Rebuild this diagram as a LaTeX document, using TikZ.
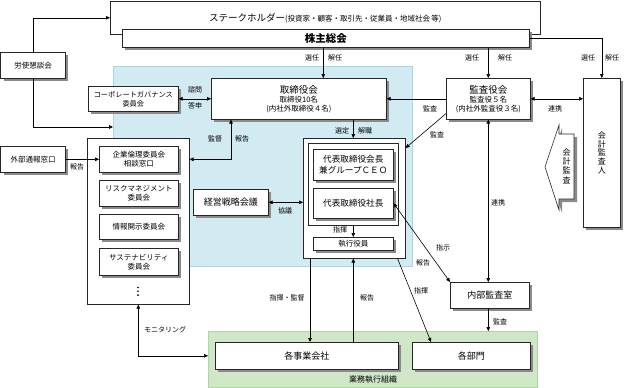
\documentclass[tikz,border=0pt]{standalone}
\usepackage{fontspec}
\setmainfont{Noto Sans CJK JP}
\usetikzlibrary{arrows.meta,shadows,calc}
\definecolor{bluebg}{HTML}{D2EAF1}
\definecolor{blueln}{HTML}{A6D7E5}
\definecolor{greenbg}{HTML}{CFE7C6}
\definecolor{greenln}{HTML}{ADD6A0}
\definecolor{shd}{HTML}{8A8A8A}
\tikzset{
 box/.style={draw=black!85, fill=white, line width=0.6pt, inner sep=1pt, align=center, anchor=north west, font=\fontsize{7.5}{9}\selectfont},
 sbox/.style={box, drop shadow={shadow xshift=3pt, shadow yshift=-3pt, fill=shd, opacity=1}},
 lbl/.style={font=\fontsize{7}{8}\selectfont, inner sep=0pt},
 con/.style={line width=0.6pt, -{Triangle[length=4pt,width=3.6pt]}},
 bicon/.style={line width=0.6pt, {Triangle[length=4pt,width=3.6pt]}-{Triangle[length=4pt,width=3.6pt]}},
}
\begin{document}
\begin{tikzpicture}[x=1pt,y=-1pt]
\useasboundingbox (0,0) rectangle (624,388);
% regions
\node[draw=blueln, fill=bluebg, line width=0.8pt, anchor=north west, minimum width=299pt, minimum height=200pt, inner sep=0pt] (blue) at (113,66) {};
\node[draw=greenln, fill=greenbg, line width=0.8pt, anchor=north west, minimum width=329pt, minimum height=56pt, inner sep=0pt] (green) at (208,331) {};
\node[lbl, font=\fontsize{8}{9}\selectfont] (lgreen) at (373,380) {業務執行組織};
% top
\node[box, minimum width=430pt, minimum height=33pt] (sh) at (110,1) {\raisebox{0pt}{\fontsize{9.5}{11}\selectfont ステークホルダー}{\fontsize{7.5}{9}\selectfont (投資家・顧客・取引先・従業員・地域社会\,等)}};
\node[sbox, minimum width=407pt, minimum height=18pt, font=\fontsize{10.5}{12}\selectfont\bfseries] (gm) at (122,29) {株主総会};
\node[sbox, minimum width=64.5pt, minimum height=26pt] (rs) at (0.5,52) {労使懇談会};
% board etc
\node[sbox, minimum width=90pt, minimum height=25pt, font=\fontsize{7.2}{9}\selectfont] (cg) at (88,86) {コーポレートガバナンス\\委員会};
\node[sbox, minimum width=175pt, minimum height=41pt] (bd) at (211,78) {{\fontsize{9.5}{11}\selectfont 取締役会}\\取締役10名\\(内社外取締役４名)};
\node[sbox, minimum width=84pt, minimum height=41pt] (ac) at (446,78) {{\fontsize{9.5}{11}\selectfont 監査役会}\\監査役５名\\(内社外監査役３名)};
\node[sbox, minimum width=37pt, minimum height=149pt, font=\fontsize{8}{8.8}\selectfont] (ea) at (583,78) {会\\計\\監\\査\\人};
% accounting audit arrow
\path[draw=black!85, fill=white, line width=0.6pt, drop shadow={shadow xshift=3pt, shadow yshift=-3pt, fill=shd, opacity=1}] (559,125) -- (559,134) -- (574,134) -- (574,199) -- (559,199) -- (559,210) -- (545,167) -- cycle;
\node[lbl, align=center, font=\fontsize{8}{9.3}\selectfont] (ka) at (566.5,166) {会\\計\\監\\査};
% committees
\node[box, minimum width=102pt, minimum height=166pt] (cm) at (87,138) {};
\node[sbox, minimum width=79pt, minimum height=26pt] (c1) at (99,146) {企業倫理委員会\\相談窓口};
\node[sbox, minimum width=79pt, minimum height=26pt] (c2) at (99,180) {リスクマネジメント\\委員会};
\node[sbox, minimum width=79pt, minimum height=25pt] (c3) at (99,214) {情報開示委員会};
\node[sbox, minimum width=79pt, minimum height=27pt] (c4) at (99,248) {サステナビリティ\\委員会};
\fill (138,287.5) circle (0.9) (138,291.3) circle (0.9) (138,295.1) circle (0.9);
\node[sbox, minimum width=64.5pt, minimum height=26pt] (ext) at (0.5,146) {外部通報窓口};
% executive
\node[box, minimum width=102pt, minimum height=120pt] (ex) at (303,138) {};
\node[box, minimum width=90pt, minimum height=82pt] (gp) at (308,143) {};
\node[sbox, minimum width=80pt, minimum height=31pt, font=\fontsize{8.6}{11}\selectfont] (ceo) at (313,149) {代表取締役会長\\兼グループＣＥＯ};
\node[sbox, minimum width=80pt, minimum height=30pt, font=\fontsize{8.6}{11}\selectfont] (pres) at (313,188) {代表取締役社長};
\node[sbox, minimum width=80pt, minimum height=13pt] (eo) at (313,237) {執行役員};
\node[sbox, minimum width=75pt, minimum height=26pt, font=\fontsize{9}{11}\selectfont] (ms) at (193,189) {経営戦略会議};
\node[sbox, minimum width=79pt, minimum height=26pt, font=\fontsize{9}{11}\selectfont] (iad) at (450,282) {内部監査室};
\node[sbox, minimum width=183pt, minimum height=27pt, font=\fontsize{9}{11}\selectfont] (bc) at (215,342) {各事業会社};
\node[sbox, minimum width=118pt, minimum height=27pt, font=\fontsize{9}{11}\selectfont] (dp) at (412,342) {各部門};
\coordinate (blueL) at (113,127);
% connectors
\draw[con] (rs.north) |- (sh.west);
\draw[con] (rs.south) |- (blueL);
\draw[bicon] (cg.east) -- (cg.east -| bd.west);
\node[lbl] (l1) at (195,90) {諮問};
\node[lbl] (l2) at (195,106) {答申};
\draw[con] ([xshift=-2.5pt]gm.south) -- ([xshift=-2.5pt]gm.south |- bd.north);
\node[lbl] (l3) at (312,58) {選任};
\node[lbl] (l4) at (335,58) {解任};
\draw[con] (ac.north |- gm.south) -- (ac.north);
\node[lbl] (l5) at (472,58) {選任};
\node[lbl] (l6) at (505,58) {解任};
\draw[con] (gm.east) -| (ea.north);
\node[lbl] (l7) at (588,58) {選任};
\node[lbl] (l8) at (612,58) {解任};
\draw[con] (ac.west) -- (ac.west -| bd.east);
\node[lbl] (l9) at (430,109) {監査};
\draw[bicon] (ac.east) -- (ac.east -| ea.west);
\node[lbl] (l10) at (555,109) {連携};
\draw[con] (bd.south -| ceo.north) -- (ceo.north |- ex.north);
\node[lbl] (l11) at (342,131) {選定};
\node[lbl] (l12) at (365,131) {解職};
\draw[bicon] ([xshift=20pt]bd.south west) |- (cm.east |- c1.east);
\node[lbl] (l13) at (215,139) {監督};
\node[lbl] (l14) at (242,139) {報告};
\draw[bicon] (ms.east) -- (ms.east -| ex.west);
\node[lbl] (l15) at (285,211) {協議};
\draw[con] (gp.south -| eo.north) -- (eo.north);
\node[lbl] (l16) at (340,230) {指揮};
\draw[con] (ext.east) -- (c1.west);
\node[lbl] (l17) at (77,167) {報告};
\draw[con] ([yshift=6pt]ac.south west) -- ([yshift=-10pt]ex.north east);
\node[lbl] (l18) at (437,135) {監査};
\draw[bicon] (pres.east) -- (iad.north west);
\node[lbl] (l19) at (443,248) {指示};
\node[lbl] (l20) at (423,263) {報告};
\draw[con] ([xshift=-8pt]ex.south east) -- ([xshift=19pt]dp.north west);
\node[lbl] (l21) at (421,291) {指揮};
\draw[con] ([xshift=7pt]ex.south west) -- ([xshift=7pt]ex.south west |- bc.north);
\node[lbl] (l22) at (287,298) {指揮・監督};
\draw[con] (bc.north -| eo.south) -- (ex.south -| eo.south);
\node[lbl] (l23) at (367,298) {報告};
\draw[bicon] (ac.south) -- (ac.south |- iad.north);
\node[lbl] (l24) at (498,203) {連携};
\draw[con] (iad.south -| ac.south) -- (ac.south |- green.north);
\node[lbl] (l25) at (500,322) {監査};
\draw[bicon] (cm.south) |- (bc.west -| green.west);
\node[lbl] (l26) at (165,330) {モニタリング};
\end{tikzpicture}
\end{document}
